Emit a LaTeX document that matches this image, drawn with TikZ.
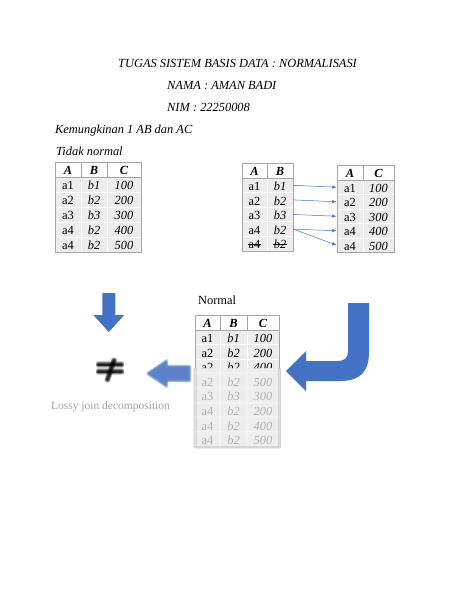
\documentclass[tikz,border=0pt]{standalone}
\usepackage{fontspec}
\setmainfont{Liberation Serif}
\usetikzlibrary{arrows.meta}
\definecolor{officeblue}{HTML}{4472C4}
\definecolor{rowfill}{HTML}{EDEDED}
\definecolor{tblborder}{HTML}{A6A6A6}
\newcommand\fz{\fontsize{12.4}{14}\selectfont}
\tikzset{
  txt/.style={inner sep=0pt,font=\fz\itshape,anchor=base west},
  cell/.style={inner sep=0pt,font=\fz,text height=8.4pt,text depth=0pt},
  hdcell/.style={cell,font=\fz\bfseries\itshape},
  itcell/.style={cell,font=\fz\itshape},
  rowbox/.style={inner sep=0pt,draw=none,minimum height=#1},
  sepline/.style={draw=white,line width=0.9pt},
  frameline/.style={draw=tblborder,line width=0.6pt},
  conn/.style={draw=officeblue,line width=0.5pt,-{Latex[length=4pt,width=3.5pt]},shorten >=0.5pt},
  bigarrow/.style={fill=officeblue,draw=none},
  blurtext/.style={text=black!30},
}
% #1 left #2 right #3 top #4 header bottom #5 row height #6 rows #7 inner column xs
\newcommand\gridtable[7]{%
  \fill[rowfill] (#1,#4) rectangle (#2,{#4+#6*#5});
  \foreach \k in {1,...,#6} {\draw[sepline] (#1,{#4+\k*#5}) -- (#2,{#4+\k*#5});}
  \foreach \xx in {#7} {\draw[sepline] (\xx,#4) -- (\xx,{#4+#6*#5}); \draw[frameline] (\xx,#3) -- (\xx,#4);}
  \draw[frameline] (#1,#4) -- (#2,#4);
  \draw[frameline] (#1,#3) rectangle (#2,{#4+#6*#5});
}
\newcommand\blurit[1]{\foreach \bx/\by in {0/0,1.3/0,-1.3/0,0/1.3,0/-1.3,0.9/0.9,-0.9/0.9,0.9/-0.9,-0.9/-0.9}{\begin{scope}[shift={(\bx,\by)},opacity=0.2]#1\end{scope}}}
\newcommand\normalgrid{\gridtable{195}{279}{315}{330}{14.6}{8}{220,247}}
\begin{document}
\begin{tikzpicture}[x=1pt,y=-1pt]
\useasboundingbox[fill=white] (0,0) rectangle (474,613);

% heading texts
\node[txt] (title) at (118,67) {TUGAS SISTEM BASIS DATA : NORMALISASI};
\node[txt] (nama) at (167,89) {NAMA : AMAN BADI};
\node[txt] (nim) at (167,111) {NIM : 22250008};
\node[txt] (kem) at (55,133) {Kemungkinan 1 AB dan AC};
\node[txt] (tidak) at (56,155) {Tidak normal};
\node[txt,font=\fz\upshape] (normal) at (198,304) {Normal};

% table 1: Tidak normal
\gridtable{55}{141}{162}{177}{15}{5}{81,107}
\node[hdcell] (t1-0-1) at (68,170.5) {A};
\node[hdcell] (t1-0-2) at (94,170.5) {B};
\node[hdcell] (t1-0-3) at (124,170.5) {C};
\foreach[count=\r] \a/\b/\c in {a1/b1/100,a2/b2/200,a3/b3/300,a4/b2/400,a4/b2/500}{
  \node[cell] (t1-\r-1) at (68,{177+15*\r-7.5+1}) {\a};
  \node[itcell] (t1-\r-2) at (94,{177+15*\r-7.5+1}) {\b};
  \node[itcell] (t1-\r-3) at (124,{177+15*\r-7.5+1}) {\c};
}

% table AB
\gridtable{242}{293}{163}{178}{14.6}{5}{267}
\node[hdcell] (ab-0-1) at (254.5,171.5) {A};
\node[hdcell] (ab-0-2) at (280,171.5) {B};
\foreach[count=\r] \a/\b in {a1/b1,a2/b2,a3/b3,a4/b2,a4/b2}{
  \node[rowbox=14.6pt,minimum width=51pt] (abrow-\r) at (267.5,{178+14.6*\r-7.3}) {};
  \node[cell] (ab-\r-1) at (254.5,{178+14.6*\r-7.3+1}) {\a};
  \node[itcell] (ab-\r-2) at (280,{178+14.6*\r-7.3+1}) {\b};
}
\draw[line width=0.5pt] ([xshift=-0.5pt]ab-5-1.west) -- ([xshift=0.5pt]ab-5-1.east);
\draw[line width=0.5pt] ([xshift=-0.5pt]ab-5-2.west) -- ([xshift=0.5pt]ab-5-2.east);

% table AC
\gridtable{337}{394}{165}{180}{14.5}{5}{363}
\node[hdcell] (ac-0-1) at (350,173.5) {A};
\node[hdcell] (ac-0-2) at (378.5,173.5) {C};
\foreach[count=\r] \a/\c in {a1/100,a2/200,a3/300,a4/400,a4/500}{
  \node[rowbox=14.5pt,minimum width=57pt] (acrow-\r) at (365.5,{180+14.5*\r-7.25}) {};
  \node[cell] (ac-\r-1) at (350,{180+14.5*\r-7.25+1}) {\a};
  \node[itcell] (ac-\r-2) at (378.5,{180+14.5*\r-7.25+1}) {\c};
}

% connectors AB -> AC
\foreach \i/\j in {1/1,2/2,3/3,4/4,4/5}{\draw[conn] (abrow-\i.east) -- (acrow-\j.west);}

% big down arrow
\fill[bigarrow] (102.3,293) -- (115.3,293) -- (115.3,315) -- (124.3,315) -- (108.8,332) -- (93.3,315) -- (102.3,315) -- cycle;

% J-shaped arrow
\fill[bigarrow] (348,303) -- (369,303) -- (369,352) .. controls (369,372) and (360,381) .. (340,381)
  -- (306,381) -- (306,391) -- (286,371) -- (306,351) -- (306,361) -- (338,361)
  .. controls (344,361) and (348,358) .. (348,352) -- cycle;

% Normal table: sharp upper part, blurred lower part
\begin{scope}
  \clip (0,0) rectangle (474,368);
  \normalgrid
  \node[hdcell] (n-0-1) at (207.5,323.5) {A};
  \node[hdcell] (n-0-2) at (233.5,323.5) {B};
  \node[hdcell] (n-0-3) at (263,323.5) {C};
  \foreach[count=\r] \a/\b/\c in {a1/b1/100,a2/b2/200,a2/b2/400}{
    \node[cell] (n-\r-1) at (207.5,{330+14.6*\r-7.3+1}) {\a};
    \node[itcell] (n-\r-2) at (233.5,{330+14.6*\r-7.3+1}) {\b};
    \node[itcell] (n-\r-3) at (263,{330+14.6*\r-7.3+1}) {\c};
  }
\end{scope}
\begin{scope}
  \clip (0,368) rectangle (300,613);
  \blurit{\normalgrid}
\end{scope}
\foreach[count=\r from 4] \a/\b/\c in {a2/b2/500,a3/b3/300,a4/b2/200,a4/b2/400,a4/b2/500}{
  \node[cell,blurtext] (n-\r-1) at (207.5,{330+14.6*\r-7.3+1}) {\a};
  \node[itcell,blurtext] (n-\r-2) at (233.5,{330+14.6*\r-7.3+1}) {\b};
  \node[itcell,blurtext] (n-\r-3) at (263,{330+14.6*\r-7.3+1}) {\c};
}

% blurred left arrow, not-equal sign, caption
\blurit{\fill[bigarrow] (190,366) -- (167,366) -- (167,360) -- (147,373.5) -- (167,387) -- (167,381) -- (190,381) -- cycle;}
\blurit{\draw[line width=3.8pt] (97,364.5) -- (123,364.5); \draw[line width=3.8pt] (97,371.5) -- (123,371.5); \draw[line width=3.2pt] (114.5,359) -- (107,381);}
\node[inner sep=0pt,font=\fontsize{11.5}{13}\selectfont,text=black!35] (lossy) at (110.5,407) {Lossy join decomposition};
\end{tikzpicture}
\end{document}
